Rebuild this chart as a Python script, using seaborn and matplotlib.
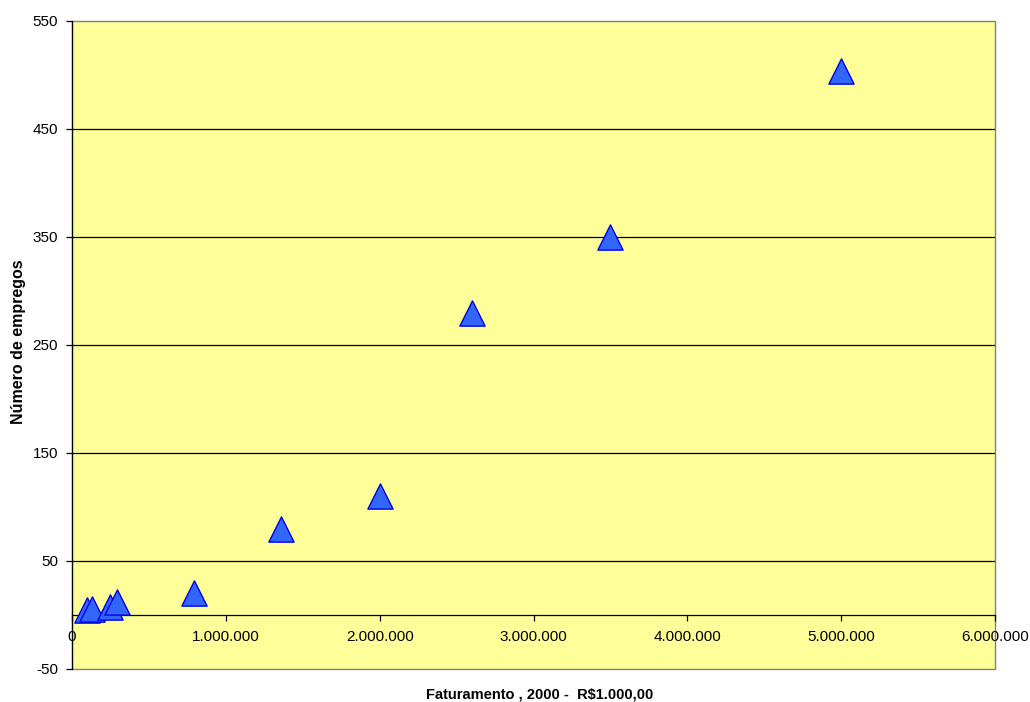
import matplotlib
matplotlib.use("Agg")
import matplotlib.pyplot as plt
import matplotlib.ticker as mticker
from matplotlib.patches import Rectangle
import pandas as pd
import seaborn as sns

# Revenue (R$1.000,00) and number of jobs per firm
faturamento = [95000, 133000, 247000, 295000, 790000, 1360000, 2000000, 2600000, 3500000, 5000000]
empregos = [5, 5.5, 7, 12.5, 20, 80, 110, 280, 350, 504]

x_ticks = [0, 1000000, 2000000, 3000000, 4000000, 5000000, 6000000]
y_ticks = [-50, 50, 150, 250, 350, 450, 550]
grid_levels = [50, 150, 250, 350, 450]

df = pd.DataFrame({"faturamento": faturamento, "empregos": empregos})

sns.set_style("white")
plt.rcParams["font.family"] = ["Liberation Sans", "DejaVu Sans"]
plt.rcParams["axes.unicode_minus"] = False
plt.rcParams["text.color"] = "black"
plt.rcParams["axes.labelcolor"] = "black"

fig = plt.figure(figsize=(10.30, 7.02), dpi=100)
ax = fig.add_axes([72 / 1030, 1 - 669 / 702, (995 - 72) / 1030, (669 - 21) / 702])
ax.set_facecolor("#FFFF99")

ax.hlines(grid_levels, 0, 6000000, colors="black", linewidth=0.9, zorder=1)

sns.scatterplot(data=df, x="faturamento", y="empregos", marker="^", s=330,
                color="#3366FF", edgecolor="#0000EE", linewidth=1.0,
                legend=False, ax=ax, zorder=3, clip_on=False)

ax.set_xlim(0, 6000000)
ax.set_ylim(-50, 550)
ax.set_xticks(x_ticks)
ax.set_yticks(y_ticks)
ax.xaxis.set_major_formatter(mticker.FuncFormatter(
    lambda v, p: f"{int(v):,}".replace(",", ".")))

for s in ["top", "right"]:
    ax.spines[s].set_visible(False)
ax.spines["bottom"].set_position(("data", 0))
ax.spines["bottom"].set_color("black")
ax.spines["bottom"].set_linewidth(0.9)
ax.spines["left"].set_color("black")
ax.spines["left"].set_linewidth(0.9)
ax.add_patch(Rectangle((0, 0), 1, 1, transform=ax.transAxes, fill=False,
                       edgecolor="#808080", linewidth=1.0, zorder=0.5, clip_on=False))

ax.tick_params(axis="both", which="major", direction="out", length=4, width=0.9,
               color="black", labelsize=11, labelcolor="black")
ax.tick_params(axis="x", bottom=True, pad=7)
ax.tick_params(axis="y", left=True, pad=6)

ax.set_xlabel("Faturamento , 2000 -  R$1.000,00", fontsize=10.5, fontweight="bold")
ax.set_ylabel("Número de empregos", fontsize=11.5, fontweight="bold")
ax.xaxis.set_label_coords(0.507, -0.028)
ax.yaxis.set_label_coords(-0.050, 0.505)

fig.savefig("out.png", dpi=100, facecolor="white")
